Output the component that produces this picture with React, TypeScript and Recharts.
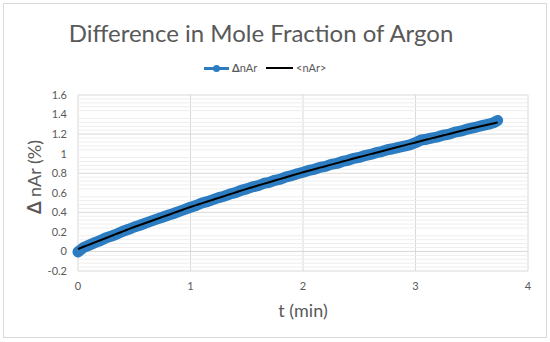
import { CartesianGrid, Line, LineChart, ReferenceLine, XAxis, YAxis } from "recharts"

const tValues = [
  0, 0.05, 0.1, 0.15, 0.2, 0.25, 0.3, 0.35, 0.4, 0.45, 0.5, 0.55, 0.6, 0.65, 0.7, 0.75, 0.8, 0.85,
  0.9, 0.95, 1.0, 1.05, 1.1, 1.15, 1.2, 1.25, 1.3, 1.35, 1.4, 1.45, 1.5, 1.55, 1.6, 1.65, 1.7,
  1.75, 1.8, 1.85, 1.9, 1.95, 2.0, 2.05, 2.1, 2.15, 2.2, 2.25, 2.3, 2.35, 2.4, 2.45, 2.5, 2.55,
  2.6, 2.65, 2.7, 2.75, 2.8, 2.85, 2.9, 2.95, 3.0, 3.05, 3.1, 3.15, 3.2, 3.25, 3.3, 3.35, 3.4,
  3.45, 3.5, 3.55, 3.6, 3.65, 3.7, 3.73,
]

// measured ΔnAr (%)
const deltaValues = [
  -0.005, 0.04, 0.065, 0.09, 0.112, 0.14, 0.158, 0.18, 0.207, 0.226, 0.25, 0.268, 0.29, 0.31,
  0.33, 0.35, 0.37, 0.388, 0.41, 0.43, 0.452, 0.47, 0.495, 0.51, 0.53, 0.55, 0.565, 0.587, 0.602,
  0.625, 0.64, 0.66, 0.672, 0.695, 0.707, 0.728, 0.74, 0.762, 0.775, 0.795, 0.81, 0.828, 0.84,
  0.86, 0.87, 0.89, 0.9, 0.92, 0.932, 0.952, 0.962, 0.98, 0.992, 1.01, 1.022, 1.04, 1.05, 1.065,
  1.078, 1.09, 1.112, 1.14, 1.148, 1.162, 1.172, 1.19, 1.2, 1.22, 1.23, 1.248, 1.262, 1.275,
  1.29, 1.302, 1.32, 1.34,
]

// smoothed <nAr>
const meanValues = [
  0.025, 0.048, 0.07, 0.093, 0.115, 0.138, 0.16, 0.183, 0.205, 0.228, 0.25, 0.271, 0.291, 0.312,
  0.332, 0.353, 0.373, 0.394, 0.414, 0.435, 0.455, 0.474, 0.492, 0.511, 0.529, 0.548, 0.566,
  0.585, 0.603, 0.622, 0.64, 0.657, 0.674, 0.691, 0.708, 0.725, 0.742, 0.759, 0.776, 0.793, 0.81,
  0.826, 0.841, 0.857, 0.872, 0.888, 0.903, 0.919, 0.934, 0.95, 0.965, 0.98, 0.995, 1.01, 1.025,
  1.04, 1.055, 1.07, 1.085, 1.1, 1.115, 1.13, 1.144, 1.159, 1.173, 1.188, 1.202, 1.217, 1.231,
  1.246, 1.26, 1.273, 1.286, 1.299, 1.312, 1.32,
]

const xTicks = [0, 1, 2, 3, 4]
const yTicks = [-0.2, 0, 0.2, 0.4, 0.6, 0.8, 1, 1.2, 1.4, 1.6]
// minor gridlines (every 0.04, majors left out)
const yMinorTicks = [
  -0.16, -0.12, -0.08, -0.04, 0.04, 0.08, 0.12, 0.16, 0.24, 0.28, 0.32, 0.36, 0.44, 0.48, 0.52,
  0.56, 0.64, 0.68, 0.72, 0.76, 0.84, 0.88, 0.92, 0.96, 1.04, 1.08, 1.12, 1.16, 1.24, 1.28, 1.32,
  1.36, 1.44, 1.48, 1.52, 1.56,
]

const data = tValues.map((t, i) => ({ t, delta: deltaValues[i], mean: meanValues[i] }))

const FONT = "Lato, 'Open Sans', sans-serif"
const GREY = "#595959"
const BLUE = "#2B7CC0"

export default function App() {
  return (
    <div
      style={{
        position: "absolute",
        left: 0,
        top: 0,
        width: 550,
        height: 342,
        background: "#fff",
        fontFamily: FONT,
      }}
    >
      <div
        style={{
          position: "absolute",
          left: 3,
          top: 3,
          width: 542,
          height: 333,
          border: "1px solid #d9d9d9",
        }}
      />
      <div
        style={{
          position: "absolute",
          left: 0,
          top: 18,
          width: 522,
          textAlign: "center",
          fontSize: 24,
          color: GREY,
        }}
      >
        Difference in Mole Fraction of Argon
      </div>

      {/* legend */}
      <div style={{ position: "absolute", left: 204, top: 61, height: 14, fontSize: 11, color: GREY }}>
        <span style={{ position: "absolute", left: 0, top: 6, width: 25, height: 3, background: BLUE }} />
        <span
          style={{
            position: "absolute",
            left: 9,
            top: 4,
            width: 7,
            height: 7,
            borderRadius: 4,
            background: BLUE,
          }}
        />
        <span style={{ position: "absolute", left: 28, top: 0, whiteSpace: "nowrap" }}>
          <b>Δ</b>nAr
        </span>
        <span style={{ position: "absolute", left: 62, top: 6, width: 27, height: 2, background: "#000" }} />
        <span style={{ position: "absolute", left: 92, top: 0, whiteSpace: "nowrap" }}>&lt;nAr&gt;</span>
      </div>

      <div
        style={{
          position: "absolute",
          left: 34,
          top: 177,
          transform: "translate(-50%, -50%) rotate(-90deg)",
          fontSize: 18,
          color: GREY,
          whiteSpace: "nowrap",
        }}
      >
        <b>Δ</b> nAr (%)
      </div>
      <div
        style={{
          position: "absolute",
          left: 303,
          top: 310,
          transform: "translate(-50%, -50%)",
          fontSize: 18,
          color: GREY,
          whiteSpace: "nowrap",
        }}
      >
        t (min)
      </div>

      <LineChart
        width={550}
        height={342}
        data={data}
        margin={{ top: 95, right: 22, bottom: 41, left: 8 }}
        style={{ position: "absolute", left: 0, top: 0 }}
      >
        <CartesianGrid yAxisId="main" stroke="#d9d9d9" />
        {yMinorTicks.map((v) => (
          <ReferenceLine key={v} yAxisId="main" y={v} stroke="#eeeeee" />
        ))}
        <XAxis
          dataKey="t"
          type="number"
          domain={[0, 4]}
          ticks={xTicks}
          height={30}
          axisLine={false}
          tickLine={false}
          tickSize={0}
          tickMargin={11}
          tick={{ fill: GREY, fontSize: 11, fontFamily: FONT }}
        />
        <YAxis
          yAxisId="main"
          type="number"
          domain={[-0.2, 1.6]}
          ticks={yTicks}
          width={70}
          axisLine={false}
          tickLine={false}
          tickSize={0}
          tickMargin={11}
          tickFormatter={(v: number) => String(v)}
          tick={{ fill: GREY, fontSize: 11, fontFamily: FONT }}
        />
        <Line
          yAxisId="main"
          dataKey="delta"
          stroke={BLUE}
          strokeWidth={11}
          strokeLinecap="round"
          strokeLinejoin="round"
          dot={false}
          isAnimationActive={false}
        />
        <Line
          yAxisId="main"
          type="monotone"
          dataKey="mean"
          stroke="#000"
          strokeWidth={2}
          dot={false}
          isAnimationActive={false}
        />
      </LineChart>
    </div>
  )
}
